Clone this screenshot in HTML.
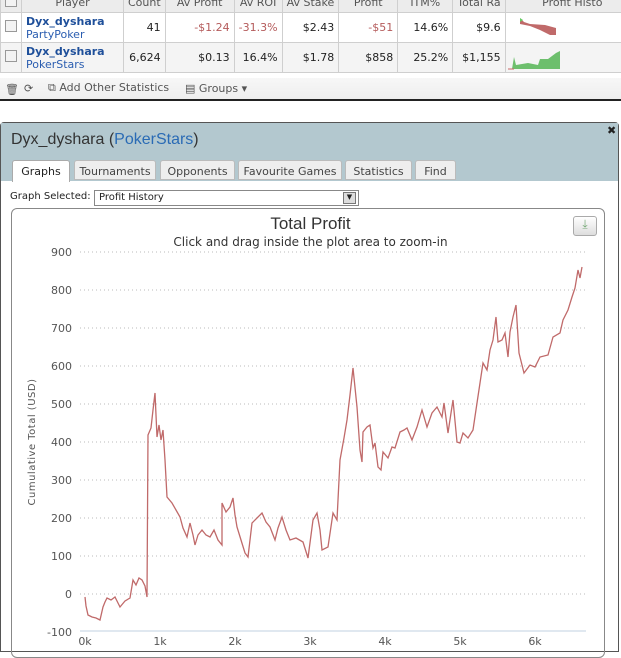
<!DOCTYPE html>
<html><head><meta charset="utf-8"><style>
*{margin:0;padding:0;box-sizing:border-box}
body{width:621px;height:645px;overflow:hidden;background:#fff;font-family:"DejaVu Sans","Liberation Sans",sans-serif;font-size:11px;color:#222;position:relative}
.a{position:absolute}
table{border-collapse:collapse;position:absolute;left:0;top:-8px;width:640px}
td{border:1px solid #cfcfcf;padding:0 4px;font-size:11px;white-space:nowrap}
.hd td{height:20px;background:#ececec;text-align:center;color:#555}
.r td{height:30px;text-align:right}
.r2 td{background:#f4f4f4}
.nm{text-align:left!important;line-height:13px}
.nm b{color:#1e4f9a}.nm span{color:#2a5db0}
.neg{color:#b45a5a}
.cb{display:inline-block;width:12px;height:12px;border:1px solid #999;background:#f3f3f3}
</style></head><body>
<table>
<tr class="hd"><td style="width:19px"><span class="cb"></span></td><td style="width:102px">Player</td><td style="width:38px">Count</td><td style="width:69px">Av Profit</td><td style="width:38px">Av ROI</td><td style="width:41px">Av Stake</td><td style="width:59px">Profit</td><td style="width:55px">ITM%</td><td style="width:45px">Total Ra</td><td>Profit Histo</td></tr>
<tr class="r"><td style="text-align:center"><span class="cb"></span></td><td class="nm"><b>Dyx_dyshara</b><br><span>PartyPoker</span></td><td>41</td><td class="neg">-$1.24</td><td class="neg">-31.3%</td><td>$2.43</td><td class="neg">-$51</td><td>14.6%</td><td>$9.6</td><td style="position:relative"><svg class="a" style="left:14px;top:5px" width="40" height="20"><polygon points="0,0 4,4 10,6 25,7 36,10 36,17 30,17 20,12 10,8 0,6" fill="#c06a6a"/><polygon points="0,0 3,2 0,4" fill="#6c6"/></svg></td></tr>
<tr class="r r2"><td style="text-align:center"><span class="cb"></span></td><td class="nm"><b>Dyx_dyshara</b><br><span>PokerStars</span></td><td>6,624</td><td>$0.13</td><td>16.4%</td><td>$1.78</td><td>$858</td><td>25.2%</td><td>$1,155</td><td style="position:relative"><svg class="a" style="left:2px;top:8px" width="52" height="20"><polygon points="4,18 6,6 8,14 20,12 30,14 32,8 40,8 48,2 52,0 52,18" fill="#6dbf6d"/><line x1="0" y1="18" x2="6" y2="18" stroke="#c66" stroke-width="1"/></svg></td></tr>
</table>
<div class="a" style="top:78px;left:0;width:621px;height:23px;background:linear-gradient(#f7f7f7,#eee);border-bottom:2px solid #222;color:#555;font-size:11px">
<span class="a" style="left:5px;top:5px">🗑</span><span class="a" style="left:24px;top:4px">⟳</span><span class="a" style="left:48px;top:3px">⧉ Add Other Statistics</span><span class="a" style="left:185px;top:4px">▤ Groups ▾</span></div>
<div class="a" style="top:122px;left:0;width:619px;height:530px;border:1px solid #555;border-radius:4px 4px 0 0;background:#fff"></div>
<div class="a" style="top:123px;left:1px;width:617px;height:58px;background:#b3c8cf"></div>
<div class="a" style="top:131px;left:11px;font-size:16px;font-family:'Liberation Sans',sans-serif;color:#333">Dyx_dyshara (<span style="color:#2a6bb5">PokerStars</span>)</div>
<div class="a" style="top:124px;left:607px;font-size:11px;font-weight:bold">✖</div>
<div class="a" style="top:160px;left:12px;width:58px;height:22px;background:#fff;border:1px solid #aaa;border-bottom:none;border-radius:3px 3px 0 0;text-align:center;padding-top:4px">Graphs</div>
<div class="a" style="top:160px;left:74px;width:82px;height:20px;background:#eee;border:1px solid #bbb;border-radius:3px 3px 0 0;text-align:center;padding-top:4px;color:#444">Tournaments</div>
<div class="a" style="top:160px;left:160px;width:75px;height:20px;background:#eee;border:1px solid #bbb;border-radius:3px 3px 0 0;text-align:center;padding-top:4px;color:#444">Opponents</div>
<div class="a" style="top:160px;left:238px;width:104px;height:20px;background:#eee;border:1px solid #bbb;border-radius:3px 3px 0 0;text-align:center;padding-top:4px;color:#444">Favourite Games</div>
<div class="a" style="top:160px;left:345px;width:67px;height:20px;background:#eee;border:1px solid #bbb;border-radius:3px 3px 0 0;text-align:center;padding-top:4px;color:#444">Statistics</div>
<div class="a" style="top:160px;left:415px;width:41px;height:20px;background:#eee;border:1px solid #bbb;border-radius:3px 3px 0 0;text-align:center;padding-top:4px;color:#444">Find</div>
<div class="a" style="top:191px;left:10px;font-size:10px">Graph Selected:</div>
<div class="a" style="top:190px;left:94px;width:265px;height:16px;border:1px solid #888;font-size:10px;padding:1px 4px">Profit History</div>
<div class="a" style="top:192px;left:343px;width:13px;height:12px;border:1px solid #777;background:#ddd;font-size:7px;text-align:center">▼</div>
<div class="a" style="top:208px;left:11px;width:594px;height:450px;border:1px solid #888;border-radius:6px"></div>
<div class="a" style="top:214px;left:0;width:621px;text-align:center;font-size:17px;font-family:'Liberation Sans',sans-serif;color:#333">Total Profit</div>
<div class="a" style="top:235px;left:0;width:621px;text-align:center;font-size:12px;color:#333">Click and drag inside the plot area to zoom-in</div>
<div class="a" style="top:216px;left:573px;width:24px;height:20px;border:1px solid #aaa;border-radius:3px;background:linear-gradient(#fff,#ddd);color:#7a7;text-align:center;font-size:12px">⤓</div>
<svg class="a" style="left:0;top:0" width="621" height="645">
<g stroke="#bbb" stroke-dasharray="1,3" stroke-width="1">
<line x1="80" x2="586" y1="252" y2="252"/><line x1="80" x2="586" y1="290" y2="290"/><line x1="80" x2="586" y1="328" y2="328"/><line x1="80" x2="586" y1="366" y2="366"/><line x1="80" x2="586" y1="404" y2="404"/><line x1="80" x2="586" y1="442" y2="442"/><line x1="80" x2="586" y1="480" y2="480"/><line x1="80" x2="586" y1="518" y2="518"/><line x1="80" x2="586" y1="556" y2="556"/><line x1="80" x2="586" y1="594" y2="594"/></g>
<line x1="80" x2="586" y1="631" y2="631" stroke="#c0d0e0"/>
<g font-size="11" fill="#555" text-anchor="end" font-family="DejaVu Sans,sans-serif">
<text x="72" y="256">900</text><text x="72" y="294">800</text><text x="72" y="332">700</text><text x="72" y="370">600</text><text x="72" y="408">500</text><text x="72" y="446">400</text><text x="72" y="484">300</text><text x="72" y="522">200</text><text x="72" y="560">100</text><text x="72" y="598">0</text><text x="72" y="636">-100</text></g>
<g font-size="11" fill="#555" text-anchor="middle"><text x="85" y="645">0k</text><text x="160" y="645">1k</text><text x="235" y="645">2k</text><text x="310" y="645">3k</text><text x="385" y="645">4k</text><text x="460" y="645">5k</text><text x="535" y="645">6k</text></g>
<text transform="translate(35,442) rotate(-90)" font-size="10" fill="#555" text-anchor="middle" letter-spacing="0.5">Cumulative Total (USD)</text>
<polyline fill="none" stroke="#c06a6a" stroke-width="1.3" points="85,597 86,606 88,615 92,617 96,618 100,620 103,607 105,602 107,598 111,600 115,597 118,603 120,607 125,601 130,598 133,580 136,585 139,578 142,580 145,586 147,597 148,435 151,428 153,410 155,393 157,437 159,425 161,440 163,430 165,460 167,497 172,503 176,510 180,517 183,528 187,537 190,523 193,535 195,545 198,535 202,530 206,535 210,537 214,530 218,540 222,545 222,503 226,512 230,507 233,498 235,515 237,527 241,540 245,553 248,557 252,523 257,518 262,513 266,522 270,527 275,540 278,528 282,517 286,530 290,540 296,538 303,542 308,558 313,520 317,513 320,530 322,550 328,547 333,513 337,520 340,460 344,438 347,420 350,395 353,368 357,407 360,450 362,462 363,432 367,427 370,425 373,448 375,443 378,467 381,470 383,452 388,458 392,447 395,448 400,432 404,430 407,428 412,440 417,427 422,410 427,427 432,413 437,407 442,417 444,403 448,433 451,413 453,400 457,442 460,443 463,433 468,438 473,430 477,403 480,383 483,363 487,370 490,350 493,340 496,317 498,342 502,340 505,333 508,357 510,332 513,317 516,305 519,353 524,373 530,365 535,367 540,357 548,355 553,337 560,333 563,320 568,310 572,297 575,288 578,270 580,278 582,267"/>
</svg>
</body></html>
